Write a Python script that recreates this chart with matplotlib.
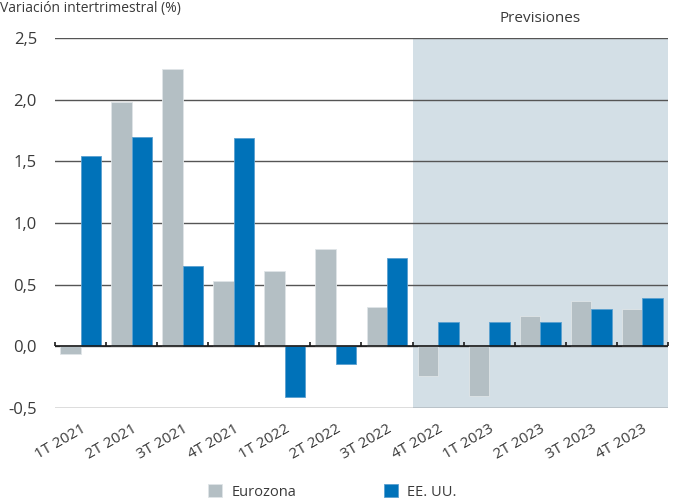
import numpy as np
import matplotlib.pyplot as plt

plt.rcParams['font.family'] = ['Open Sans', 'DejaVu Sans']

quarters = ['1T 2021', '2T 2021', '3T 2021', '4T 2021',
            '1T 2022', '2T 2022', '3T 2022', '4T 2022',
            '1T 2023', '2T 2023', '3T 2023', '4T 2023']
eurozona = [-0.06, 1.98, 2.25, 0.53, 0.61, 0.79, 0.32, -0.24, -0.40, 0.25, 0.37, 0.30]
eeuu = [1.54, 1.70, 0.65, 1.69, -0.41, -0.14, 0.72, 0.20, 0.20, 0.20, 0.30, 0.39]
forecast_start = 7  # first forecast quarter (4T 2022)

GREY = '#b4bfc4'
BLUE = '#0072b9'
SHADE = '#d3dfe6'
TEXT = '#3a3a3a'


def main():
    fig = plt.figure(figsize=(6.75, 5), dpi=100)
    ax = fig.add_axes([0.0815, 0.184, 0.908, 0.740])

    x = np.arange(len(quarters))
    w = 0.40

    ax.axvspan(forecast_start - 0.5, len(quarters) - 0.5, color=SHADE, zorder=0, lw=0)
    ax.text((forecast_start - 0.5 + len(quarters) - 0.5) / 2, 2.6, 'Previsiones',
            ha='center', va='bottom', fontsize=11, color=TEXT)

    yticks = np.arange(-0.5, 2.51, 0.5)
    for yv in yticks:
        ax.axhline(yv, color='#555555', lw=1.0, zorder=1)

    ax.bar(x - w / 2, eurozona, w, color=GREY, edgecolor='#dfe5e8', lw=0.6,
           zorder=2, label='Eurozona')
    ax.bar(x + w / 2, eeuu, w, color=BLUE, edgecolor='#5aa0d0', lw=0.6,
           zorder=2, label='EE. UU.')

    # zero line with small ticks between quarters
    ax.axhline(0, color='#1a1a1a', lw=1.2, zorder=3)
    bounds = np.arange(len(quarters) + 1) - 0.5
    ax.vlines(bounds, 0, 0.035, color='#1a1a1a', lw=1.2, zorder=3, clip_on=False)

    ax.set_xlim(-0.5, len(quarters) - 0.5)
    ax.set_ylim(-0.5, 2.5)
    ax.set_yticks(yticks)
    ax.set_yticklabels([f'{v:.1f}'.replace('.', ',') for v in yticks])
    ax.set_xticks(x)
    ax.set_xticklabels(quarters, rotation=30, ha='right', va='top',
                       rotation_mode='anchor')
    ax.tick_params(axis='x', length=0, pad=10, labelsize=11, colors=TEXT)
    ax.tick_params(axis='y', length=0, pad=13, labelsize=12, colors=TEXT)
    for s in ax.spines.values():
        s.set_visible(False)

    fig.text(0.0, 0.998, 'Variación intertrimestral (%)', ha='left', va='top',
             fontsize=10, color=TEXT)

    fig.legend(loc='center', bbox_to_anchor=(0.492, 0.016), ncol=2, frameon=False,
               handlelength=1.0, handleheight=1.0, handletextpad=0.6,
               columnspacing=6.0, fontsize=10.5, labelcolor=TEXT)

    fig.savefig('out.png', dpi=100)


if __name__ == '__main__':
    main()
